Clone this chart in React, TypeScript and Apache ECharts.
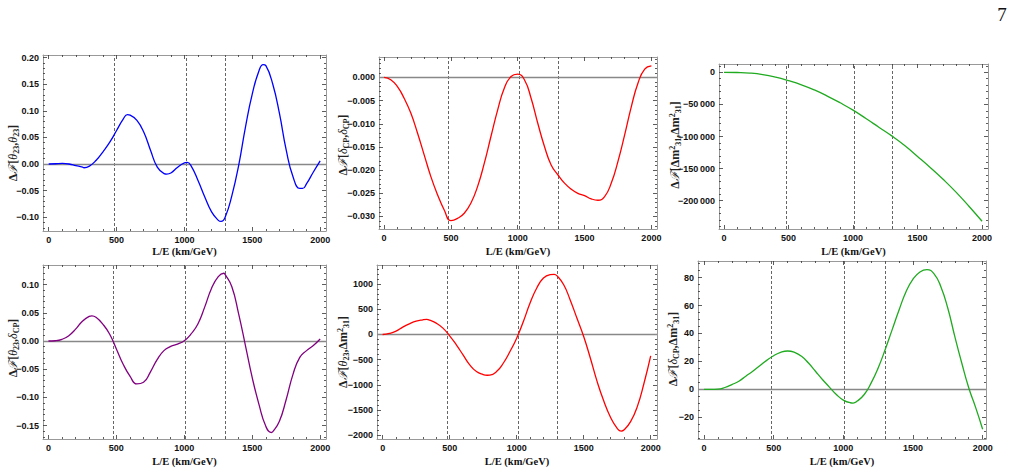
import React, { useEffect, useRef } from "react";
import * as echarts from "echarts";

// ---------- data ----------
const X50 = [0, 50, 100, 150, 200, 250, 300, 350, 400, 450, 500, 550, 600, 650, 700, 750, 800, 850, 900, 950, 1000,
  1050, 1100, 1150, 1200, 1250, 1300, 1350, 1400, 1450, 1500, 1550, 1600, 1650, 1700, 1750, 1800, 1850, 1900, 1950, 2000];
const X100 = [0, 100, 200, 300, 400, 500, 600, 700, 800, 900, 1000, 1100, 1200, 1300, 1400, 1500, 1600, 1700, 1800, 1900, 2000];

const dTh23Th23 = [0, 0.0005, 0.001, 0.0, -0.003, -0.006, -0.004, 0.007, 0.023, 0.041, 0.063, 0.085, 0.092, 0.082, 0.060,
  0.026, -0.006, -0.018, -0.017, -0.006, 0.002, -0.004, -0.031, -0.062, -0.090, -0.106, -0.100, -0.059, -0.002, 0.070,
  0.132, 0.176, 0.185, 0.151, 0.095, 0.026, -0.024, -0.046, -0.037, -0.015, 0.006];
const dTh23Th23ExtX = [260, 580, 870, 1020, 1270, 1580, 1870];
const dTh23Th23ExtY = [-0.007, 0.093, -0.019, 0.003, -0.108, 0.187, -0.046];

const dCpCp = [0, -0.0005, -0.002, -0.0045, -0.0077, -0.012, -0.0167, -0.0214, -0.0253, -0.0286, -0.0309, -0.0304, -0.0293,
  -0.0271, -0.0235, -0.0185, -0.0127, -0.007, -0.0023, 0.0002, 0.0007, -0.0005, -0.0045, -0.0099, -0.0149, -0.0189,
  -0.021, -0.0228, -0.0241, -0.025, -0.0255, -0.0262, -0.0265, -0.0257, -0.0228, -0.0181, -0.0124, -0.0063, -0.0012,
  0.0018, 0.0025];

const dDmDm = [0, -300, -1200, -3500, -7500, -13000, -19500, -27500, -37000, -47500, -59000, -72000, -85500, -99000,
  -114000, -131000, -148500, -167000, -187000, -209000, -232000];

const dTh23Cp = [0, 0.0005, 0.003, 0.0095, 0.021, 0.035, 0.0435, 0.042, 0.030, 0.0125, -0.014, -0.041, -0.062, -0.076,
  -0.073, -0.055, -0.033, -0.017, -0.0095, -0.0054, 0.0006, 0.0125, 0.030, 0.060, 0.093, 0.114, 0.118, 0.096, 0.048,
  -0.008, -0.065, -0.1125, -0.151, -0.161, -0.142, -0.1035, -0.059, -0.029, -0.017, -0.008, 0.0035];
const dTh23CpExtX = [320, 1290, 1640];
const dTh23CpExtY = [0.0446, 0.12, -0.162];

const dTh23Dm = [0, 20, 66, 146, 212, 265, 291, 285, 225, 126, -26, -205, -404, -603, -735, -795, -805, -735, -570, -338,
  -73, 258, 623, 920, 1119, 1185, 1166, 990, 680, 320, -40, -470, -930, -1320, -1640, -1860, -1894, -1728, -1430, -967, -424];
const dTh23DmExtX = [330, 780, 1280, 1780];
const dTh23DmExtY = [298, -808, 1192, -1914];

const dCpDm = [0, 0, 0.2, 1.4, 3.5, 5.9, 9.5, 13, 17, 20.8, 24.1, 26.5, 27.5, 26.5, 23.7, 18.9, 13, 7.1, 1.7, -3.6, -7.6,
  -9.5, -8.3, -3.6, 4.7, 15.4, 28.4, 42.6, 56.8, 69.8, 78.8, 84, 85.7, 82.8, 73.4, 58, 37.9, 18.9, 1.2, -13, -28.4];
const dCpDmExtX = [1070];
const dCpDmExtY = [-9.7];

const markerLE = [480, 1010, 1300];
const xMajor = [0, 500, 1000, 1500, 2000];
const yMajor1 = [-0.1, -0.05, 0, 0.05, 0.1, 0.15, 0.2];
const yMajor2 = [-0.03, -0.025, -0.02, -0.015, -0.01, -0.005, 0];
const yMajor3 = [-200000, -150000, -100000, -50000, 0];
const yMajor4 = [-0.15, -0.1, -0.05, 0, 0.05, 0.1];
const yMajor5 = [-2000, -1500, -1000, -500, 0, 500, 1000];
const yMajor6 = [-20, 0, 20, 40, 60, 80];
const xTitle = "L/E (km/GeV)";

// ---------- helpers ----------
const merge = (xs: number[], ys: number[], ex: number[] = [], ey: number[] = []) =>
  xs.map((x, j) => [x, ys[j]]).concat(ex.map((x, j) => [x, ey[j]])).sort((a, b) => a[0] - b[0]);
const steps = (lo: number, hi: number, st: number) => {
  const out: number[] = [];
  const n = Math.floor((hi - lo) / st + 1e-9);
  for (let k = 0; k <= n; k++) out.push(+(lo + k * st).toFixed(6));
  return out;
};
const minus = (s: string) => s.replace("-", "\u2212");
const fmtFixed = (d: number) => (v: number) => (v < 0 ? "\u2212" : "") + Math.abs(v).toFixed(d);
const fmtThousands = (v: number) => {
  const a = Math.abs(Math.round(v));
  const s = a >= 1000 ? Math.floor(a / 1000) + "\u2009" + String(a % 1000).padStart(3, "0") : String(a);
  return (v < 0 ? "\u2212" : "") + s;
};
const fmtInt = (v: number) => minus(String(Math.round(v)));

const F = "{n|\u0394}{i|\u2131}";
const panels = [
  { left: 43, top: 55, width: 283, height: 176, xMin: -42, xMax: 2043, yMin: -0.126, yMax: 0.205, yMajor: yMajor1,
    yMinor: 0.01, fmt: fmtFixed(2), data: merge(X50, dTh23Th23, dTh23Th23ExtX, dTh23Th23ExtY), color: "#0000ff", zero: true,
    title: F + "{n|[}{i|\u03b8}{s|23}{n|,}{i|\u03b8}{s|23}{n|]}", tx: 13, ty: 153 },
  { left: 379, top: 57, width: 278, height: 172, xMin: -38, xMax: 2042, yMin: -0.0327, yMax: 0.0044, yMajor: yMajor2,
    yMinor: 0.001, fmt: fmtFixed(3), data: merge(X50, dCpCp), color: "#ff0000", zero: true,
    title: F + "{n|[}{i|\u03b4}{s|CP}{n|,}{i|\u03b4}{s|CP}{n|]}", tx: 343, ty: 145 },
  { left: 719, top: 64, width: 269, height: 165, xMin: -39, xMax: 2046, yMin: -244000, yMax: 12900, yMajor: yMajor3,
    yMinor: 10000, fmt: fmtThousands, data: merge(X100, dDmDm), color: "#1faa1f", zero: false,
    title: F + "{n|[\u0394m}{p|2}{s|31}{n|,\u0394m}{p|2}{s|31}{n|]}", tx: 675, ty: 145 },
  { left: 43, top: 265, width: 283, height: 174, xMin: -40, xMax: 2043, yMin: -0.1735, yMax: 0.1346, yMajor: yMajor4,
    yMinor: 0.01, fmt: fmtFixed(2), data: merge(X50, dTh23Cp, dTh23CpExtX, dTh23CpExtY), color: "#800080", zero: true,
    title: F + "{n|[}{i|\u03b8}{s|23}{n|,}{i|\u03b4}{s|CP}{n|]}", tx: 13, ty: 348 },
  { left: 377, top: 265, width: 280, height: 174, xMin: -42, xMax: 2047, yMin: -2071, yMax: 1377, yMajor: yMajor5,
    yMinor: 100, fmt: fmtInt, data: merge(X50, dTh23Dm, dTh23DmExtX, dTh23DmExtY), color: "#ff0000", zero: true,
    title: F + "{n|[}{i|\u03b8}{s|23}{n|,\u0394m}{p|2}{s|31}{n|]}", tx: 343, ty: 352 },
  { left: 698, top: 261, width: 288, height: 178, xMin: -43, xMax: 2024, yMin: -35.4, yMax: 91.8, yMajor: yMajor6,
    yMinor: 5, fmt: fmtInt, data: merge(X50, dCpDm, dCpDmExtX, dCpDmExtY), color: "#1faa1f", zero: true,
    title: F + "{n|[}{i|\u03b4}{s|CP}{n|,\u0394m}{p|2}{s|31}{n|]}", tx: 673, ty: 349 },
];

const FRAME = "#999";
const TICK = "#333";
const labelFont = { fontSize: 9, fontWeight: "bold" as const, fontFamily: "Liberation Sans, Arial, sans-serif", color: "#111" };

export default function App() {
  const ref = useRef<HTMLDivElement>(null);
  useEffect(() => {
    document.body.style.margin = "0";
    if (!ref.current) return;
    const chart = echarts.init(ref.current, undefined, { renderer: "svg" });
    const grid: any[] = [];
    const xAxis: any[] = [];
    const yAxis: any[] = [];
    const series: any[] = [];
    const graphic: any[] = [];
    const xMinor = steps(0, 2000, 100).filter((v) => !xMajor.includes(v));

    panels.forEach((p, i) => {
      grid.push({ left: p.left, top: p.top, width: p.width, height: p.height, containLabel: false, outerBoundsMode: "none" });
      const yLo = Math.ceil(p.yMin / p.yMinor) * p.yMinor;
      const yMinorVals = steps(yLo, p.yMax, p.yMinor).filter((v) => !p.yMajor.some((m) => Math.abs(m - v) < p.yMinor / 10));
      const base = { gridIndex: i, type: "value", splitLine: { show: false } };
      const xMk = (pos: string, major: boolean) => ({
        ...base, min: p.xMin, max: p.xMax, position: pos,
        axisLine: { show: major, onZero: false, lineStyle: { color: FRAME, width: 1 } },
        axisTick: { show: true, inside: true, length: major ? 4 : 2, customValues: major ? xMajor : xMinor, lineStyle: { color: TICK, width: 0.8 } },
        axisLabel: major && pos === "bottom"
          ? { show: true, customValues: xMajor, margin: 4, formatter: (v: number) => String(v), ...labelFont }
          : { show: false },
      });
      const yMk = (pos: string, major: boolean) => ({
        ...base, min: p.yMin, max: p.yMax, position: pos,
        axisLine: { show: major, onZero: false, lineStyle: { color: FRAME, width: 1 } },
        axisTick: { show: true, inside: true, length: major ? 4 : 2, customValues: major ? p.yMajor : yMinorVals, lineStyle: { color: TICK, width: 0.8 } },
        axisLabel: major && pos === "left"
          ? { show: true, customValues: p.yMajor, margin: 4, formatter: p.fmt, ...labelFont }
          : { show: false },
      });
      xAxis.push(xMk("bottom", true), xMk("bottom", false), xMk("top", true), xMk("top", false));
      yAxis.push(yMk("left", true), yMk("left", false), yMk("right", true), yMk("right", false));

      const mlData: any[] = markerLE.map((v) => ({ xAxis: v, lineStyle: { color: "#555", width: 0.9, type: [3, 2] } }));
      if (p.zero) mlData.push({ yAxis: 0, lineStyle: { color: "#888", width: 1.3, type: "solid" } });
      series.push({
        type: "line",
        xAxisIndex: 4 * i,
        yAxisIndex: 4 * i,
        data: p.data,
        smooth: 0.5,
        showSymbol: false,
        symbol: "none",
        silent: true,
        z: 3,
        lineStyle: { color: p.color, width: 1.3 },
        markLine: { silent: true, symbol: ["none", "none"], label: { show: false }, z: 1, data: mlData },
      });

      graphic.push({
        type: "text",
        x: p.left + p.width / 2,
        y: i < 3 ? 251 : 461,
        style: { text: xTitle, font: "bold 10.5px 'Liberation Serif', serif", fill: "#111", align: "center", verticalAlign: "middle" },
      });
      graphic.push({
        type: "text",
        x: p.tx,
        y: p.ty,
        rotation: Math.PI / 2,
        style: {
          text: p.title,
          align: "center",
          verticalAlign: "middle",
          fill: "#222",
          rich: {
            n: { fontSize: 12, fontWeight: "bold", fontFamily: "Liberation Serif, DejaVu Serif, serif", fill: "#222", lineHeight: 14, verticalAlign: "middle" },
            i: { fontSize: 12, fontStyle: "italic", fontFamily: "Liberation Serif, DejaVu Serif, serif", fill: "#222", lineHeight: 14, verticalAlign: "middle" },
            s: { fontSize: 8, fontWeight: "bold", fontFamily: "Liberation Serif, serif", fill: "#222", lineHeight: 8, verticalAlign: "bottom" },
            p: { fontSize: 8, fontWeight: "bold", fontFamily: "Liberation Serif, serif", fill: "#222", lineHeight: 8, verticalAlign: "top" },
          },
        },
      });
    });

    graphic.push({
      type: "text",
      x: 1002,
      y: 14,
      style: { text: "7", font: "19px 'Liberation Serif', serif", fill: "#111", align: "center", verticalAlign: "middle" },
    });

    chart.setOption({ animation: false, backgroundColor: "#fff", grid, xAxis, yAxis, series, graphic });
    return () => chart.dispose();
  }, []);
  return <div ref={ref} style={{ width: 1013, height: 472 }} />;
}
